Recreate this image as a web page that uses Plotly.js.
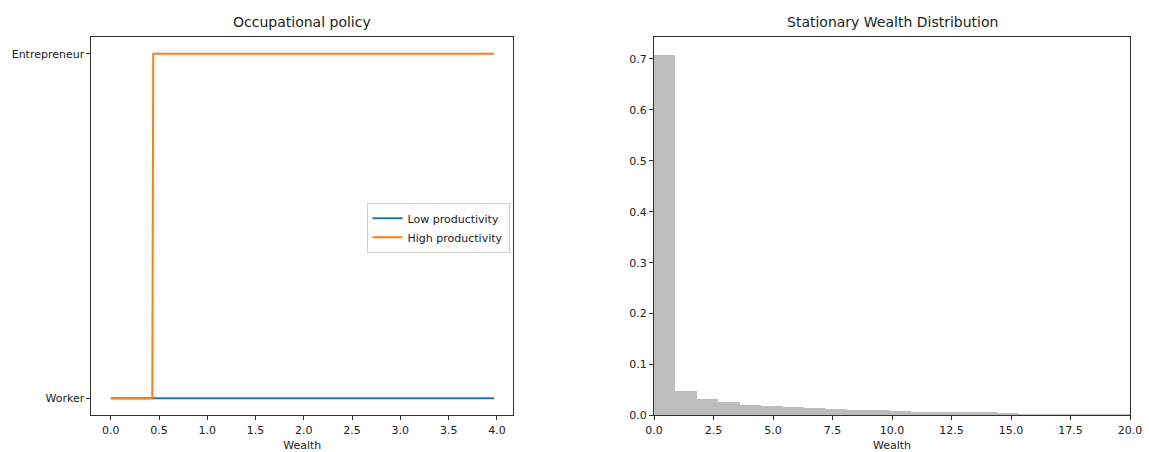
<!DOCTYPE html>
<html>
<head>
<meta charset="utf-8">
<script src="https://cdn.plot.ly/plotly-3.0.1.min.js"></script>
<style>
  html, body { margin: 0; padding: 0; background: #fff; }
  #chart { width: 1149px; height: 452px; }
</style>
</head>
<body>
<div id="chart"></div>
<script>
// Occupational policy on the wealth grid (0 = worker, 1 = entrepreneur)
const wealthGrid = [0.0, 0.43, 0.44, 3.97];
const lowPolicy = [0, 0, 0, 0];
const highPolicy = [0, 0, 1, 1];
const policyTickVals = [0, 1];
const policyTickText = ['Worker', 'Entrepreneur'];

// Stationary wealth distribution: histogram bins of width 0.9
const binWidth = 0.9;
const binLeftEdges = [0.0, 0.9, 1.8, 2.7, 3.6, 4.5, 5.4, 6.3, 7.2, 8.1, 9.0, 9.9,
                      10.8, 11.7, 12.6, 13.5, 14.4, 15.3, 16.2, 17.1, 18.0, 18.9, 19.8];
const binDensity = [0.708, 0.048, 0.032, 0.026, 0.021, 0.019, 0.016, 0.014, 0.013, 0.011, 0.010, 0.008,
                    0.007, 0.007, 0.006, 0.006, 0.005, 0.003, 0.003, 0.002, 0.002, 0.002, 0.002];

const binCenters = binLeftEdges.map(e => e + binWidth / 2);

const font = { family: 'DejaVu Sans, sans-serif', size: 11, color: '#222' };

const traces = [
  {
    x: wealthGrid, y: lowPolicy, type: 'scatter', mode: 'lines',
    name: 'Low productivity', line: { color: '#1f77b4', width: 2 },
    xaxis: 'x', yaxis: 'y'
  },
  {
    x: wealthGrid, y: highPolicy, type: 'scatter', mode: 'lines',
    name: 'High productivity', line: { color: '#ff7f0e', width: 2 },
    xaxis: 'x', yaxis: 'y'
  },
  {
    x: binCenters, y: binDensity, type: 'bar', width: binWidth,
    marker: { color: '#bdbdbd', line: { width: 0 } }, showlegend: false,
    xaxis: 'x2', yaxis: 'y2'
  }
];

const axisCommon = {
  showline: true, mirror: true, linecolor: '#333', linewidth: 1,
  ticks: 'outside', ticklen: 4, tickcolor: '#333', tickwidth: 1,
  showgrid: false, zeroline: false, tickfont: font
};

const layout = {
  width: 1149, height: 452,
  margin: { l: 0, r: 0, t: 0, b: 0 },
  paper_bgcolor: '#fff', plot_bgcolor: '#fff',
  font: font,
  showlegend: true,
  legend: {
    x: 0.319, y: 0.5515, xanchor: 'left', yanchor: 'top',
    bgcolor: 'rgba(255,255,255,0.9)', bordercolor: '#d0d0d0', borderwidth: 1,
    font: { family: 'DejaVu Sans, sans-serif', size: 11, color: '#222' },
    tracegroupgap: 0
  },
  bargap: 0,
  xaxis: Object.assign({}, axisCommon, {
    domain: [0.0796, 0.4465], range: [-0.2, 4.167],
    tickvals: [0, 0.5, 1, 1.5, 2, 2.5, 3, 3.5, 4],
    ticktext: ['0.0', '0.5', '1.0', '1.5', '2.0', '2.5', '3.0', '3.5', '4.0'],
    title: { text: 'Wealth', font: font, standoff: 8 }
  }),
  yaxis: Object.assign({}, axisCommon, {
    domain: [0.0808, 0.9192], range: [-0.05, 1.05],
    tickvals: policyTickVals, ticktext: policyTickText
  }),
  xaxis2: Object.assign({}, axisCommon, {
    domain: [0.5692, 0.9835], range: [0, 20], anchor: 'y2',
    tickvals: [0, 2.5, 5, 7.5, 10, 12.5, 15, 17.5, 20],
    ticktext: ['0.0', '2.5', '5.0', '7.5', '10.0', '12.5', '15.0', '17.5', '20.0'],
    title: { text: 'Wealth', font: font, standoff: 8 }
  }),
  yaxis2: Object.assign({}, axisCommon, {
    domain: [0.0808, 0.9192], range: [0, 0.744], anchor: 'x2',
    tickvals: [0, 0.1, 0.2, 0.3, 0.4, 0.5, 0.6, 0.7],
    ticktext: ['0.0', '0.1', '0.2', '0.3', '0.4', '0.5', '0.6', '0.7']
  }),
  annotations: [
    {
      text: 'Occupational policy', xref: 'paper', yref: 'paper',
      x: (0.0796 + 0.4465) / 2, y: 0.9192, yshift: 5, xanchor: 'center', yanchor: 'bottom',
      showarrow: false, font: { family: 'DejaVu Sans, sans-serif', size: 14, color: '#222' }
    },
    {
      text: 'Stationary Wealth Distribution', xref: 'paper', yref: 'paper',
      x: (0.5692 + 0.9835) / 2, y: 0.9192, yshift: 5, xanchor: 'center', yanchor: 'bottom',
      showarrow: false, font: { family: 'DejaVu Sans, sans-serif', size: 14, color: '#222' }
    }
  ]
};

Plotly.newPlot('chart', traces, layout, { displayModeBar: false, staticPlot: true });
</script>
</body>
</html>
